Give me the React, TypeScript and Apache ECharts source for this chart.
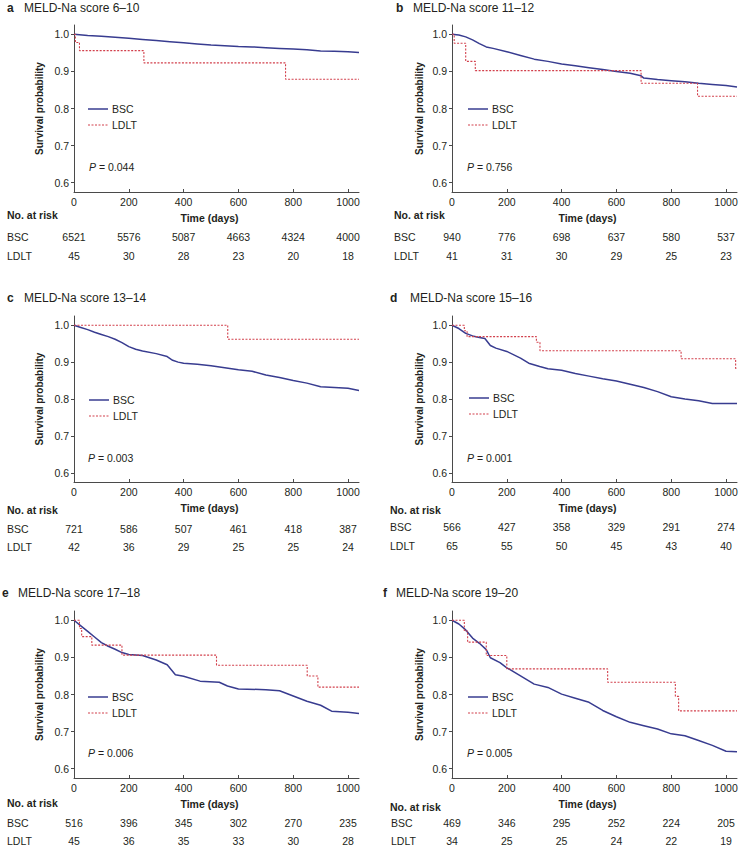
import React, { useEffect, useRef } from "react";
import * as echarts from "echarts";

// ---------- DATA ----------
const xTicks = [0, 200, 400, 600, 800, 1000];
const yTicks = [0.6, 0.7, 0.8, 0.9, 1.0];
const panelLetters = ["a", "b", "c", "d", "e", "f"];
const panelTitles = [
  "MELD-Na score 6–10",
  "MELD-Na score 11–12",
  "MELD-Na score 13–14",
  "MELD-Na score 15–16",
  "MELD-Na score 17–18",
  "MELD-Na score 19–20",
];
const pValues = ["0.044", "0.756", "0.003", "0.001", "0.006", "0.005"];
const groupNames = ["BSC", "LDLT"];

const bscA = [[0,1],[50,0.997],[100,0.995],[150,0.992],[200,0.989],[250,0.986],[300,0.983],[350,0.98],[400,0.977],[450,0.974],[500,0.971],[550,0.969],[600,0.967],[650,0.966],[700,0.964],[750,0.962],[800,0.96],[850,0.958],[900,0.955],[950,0.954],[1000,0.953],[1040,0.951]];
const ldltA = [[0,1],[5,0.978],[20,0.956],[255,0.923],[772,0.879],[1040,0.879]];

const bscB = [[0,1],[25,0.998],[50,0.993],[75,0.985],[100,0.975],[125,0.966],[150,0.962],[200,0.953],[250,0.943],[300,0.933],[350,0.927],[400,0.92],[450,0.915],[500,0.91],[550,0.905],[600,0.9],[650,0.895],[690,0.888],[700,0.882],[750,0.878],[800,0.875],[850,0.872],[900,0.868],[950,0.865],[1000,0.862],[1040,0.858]];
const ldltB = [[0,1],[8,0.976],[50,0.927],[85,0.902],[690,0.868],[896,0.833],[1040,0.833]];

const bscC = [[0,1],[25,0.994],[50,0.988],[75,0.981],[100,0.975],[125,0.969],[150,0.962],[175,0.953],[200,0.942],[225,0.935],[250,0.93],[300,0.923],[340,0.915],[360,0.905],[380,0.9],[400,0.897],[450,0.894],[500,0.89],[550,0.885],[600,0.879],[650,0.875],[700,0.865],[750,0.858],[800,0.85],[850,0.843],[900,0.833],[950,0.831],[1000,0.829],[1040,0.823]];
const ldltC = [[0,1],[561,0.962],[1040,0.962]];

const bscD = [[0,1],[25,0.991],[50,0.978],[75,0.971],[100,0.967],[120,0.964],[140,0.945],[160,0.938],[200,0.929],[250,0.911],[280,0.897],[320,0.888],[350,0.882],[400,0.878],[450,0.869],[500,0.862],[550,0.855],[600,0.849],[650,0.84],[700,0.831],[750,0.82],[800,0.806],[850,0.8],[900,0.795],[950,0.788],[1040,0.788]];
const ldltD = [[0,1],[45,0.985],[55,0.969],[308,0.954],[321,0.931],[836,0.909],[1035,0.883],[1040,0.883]];

const bscE = [[0,1],[25,0.985],[50,0.97],[75,0.955],[100,0.94],[125,0.93],[150,0.922],[175,0.913],[200,0.908],[250,0.905],[300,0.893],[340,0.88],[370,0.853],[400,0.849],[460,0.836],[530,0.833],[560,0.823],[600,0.815],[700,0.813],[750,0.81],[800,0.796],[850,0.782],[900,0.771],[940,0.755],[1000,0.752],[1040,0.749]];
const ldltE = [[0,1],[20,0.978],[28,0.956],[65,0.933],[175,0.906],[520,0.879],[851,0.85],[890,0.82],[1040,0.82]];

const bscF = [[0,1],[25,0.99],[50,0.974],[75,0.952],[100,0.938],[125,0.921],[140,0.899],[175,0.886],[200,0.872],[250,0.85],[300,0.828],[350,0.819],[400,0.801],[450,0.79],[500,0.779],[550,0.757],[600,0.74],[650,0.725],[700,0.716],[750,0.707],[800,0.694],[850,0.689],[900,0.676],[950,0.663],[1000,0.647],[1040,0.646]];
const ldltF = [[0,1],[45,0.971],[57,0.941],[125,0.905],[200,0.869],[568,0.833],[815,0.795],[827,0.756],[1040,0.756]];

const riskBscA = [6521, 5576, 5087, 4663, 4324, 4000];
const riskLdltA = [45, 30, 28, 23, 20, 18];
const riskBscB = [940, 776, 698, 637, 580, 537];
const riskLdltB = [41, 31, 30, 29, 25, 23];
const riskBscC = [721, 586, 507, 461, 418, 387];
const riskLdltC = [42, 36, 29, 25, 25, 24];
const riskBscD = [566, 427, 358, 329, 291, 274];
const riskLdltD = [65, 55, 50, 45, 43, 40];
const riskBscE = [516, 396, 345, 302, 270, 235];
const riskLdltE = [45, 36, 35, 33, 30, 28];
const riskBscF = [469, 346, 295, 252, 224, 205];
const riskLdltF = [34, 25, 25, 24, 22, 19];

const bscCurves = [bscA, bscB, bscC, bscD, bscE, bscF];
const ldltCurves = [ldltA, ldltB, ldltC, ldltD, ldltE, ldltF];
const riskBsc = [riskBscA, riskBscB, riskBscC, riskBscD, riskBscE, riskBscF];
const riskLdlt = [riskLdltA, riskLdltB, riskLdltC, riskLdltD, riskLdltE, riskLdltF];

// ---------- LAYOUT ----------
const FONT = '"Liberation Sans", Arial, Helvetica, sans-serif';
const TXT = "#231f20";
const AXIS = "#4a4a4a";
const BSC_COLOR = "#383c90";
const LDLT_COLOR = "#d2404c";
const LDLT_DASH = [2, 1.5];

const layout = [
  { left: 74, top: 25, h: 167, letterX: 7, titleX: 24, titleY: 9, legY: 109, legLeft: 88, pX: 89, pY: 167, riskX: 7, rowGap: 67, off1: 45.3, off2: 64.3, riskY: 215, yGap: 30 },
  { left: 452, top: 25, h: 167, letterX: 396, titleX: 413, titleY: 9, legY: 109, legLeft: 468, pX: 467, pY: 167, riskX: 394, rowGap: 58, off1: 45.3, off2: 64.3, riskY: 215, yGap: 28 },
  { left: 74, top: 316, h: 166, letterX: 7, titleX: 24, titleY: 299, legY: 400, legLeft: 89, pX: 88, pY: 458, riskX: 7, rowGap: 67, off1: 46.6, off2: 65, riskY: 510, yGap: 30 },
  { left: 452, top: 316, h: 166, letterX: 390, titleX: 410, titleY: 299, legY: 398, legLeft: 469, pX: 467, pY: 458, riskX: 390, rowGap: 62, off1: 45, off2: 64, riskY: 510, yGap: 28 },
  { left: 74, top: 611, h: 167, letterX: 2, titleX: 18, titleY: 594, legY: 697, legLeft: 88, pX: 88, pY: 753, riskX: 7, rowGap: 67, off1: 45, off2: 63.4, riskY: 803, yGap: 30 },
  { left: 452, top: 611, h: 167, letterX: 383, titleX: 396, titleY: 594, legY: 697, legLeft: 468, pX: 467, pY: 753, riskX: 390, rowGap: 61, off1: 45, off2: 63.4, riskY: 807, yGap: 28 },
];
const GRID_W = 285;
const X_MAX = 1040;

function buildOption() {
  const grid: any[] = [];
  const xAxis: any[] = [];
  const yAxis: any[] = [];
  const series: any[] = [];
  const graphic: any[] = [];

  layout.forEach((L, i) => {
    grid.push({ left: L.left, top: L.top, width: GRID_W, height: L.h });
    xAxis.push({
      type: "value", gridIndex: i, min: 0, max: X_MAX,
      name: "Time (days)", nameLocation: "middle", nameGap: 20,
      nameTextStyle: { fontFamily: FONT, fontWeight: "bold", fontSize: 10.5, color: TXT, padding: [0, 14, 0, 0] },
      axisLine: { show: true, lineStyle: { color: AXIS, width: 1 } },
      axisTick: { show: true, inside: true, length: 3, lineStyle: { color: AXIS }, customValues: xTicks },
      axisLabel: { customValues: xTicks, margin: 4, fontFamily: FONT, fontSize: 10.5, color: TXT, formatter: (v: number) => String(v) },
      splitLine: { show: false },
    });
    const riskAxis = (rows: number[], name: string, off: number) => ({
      type: "value", gridIndex: i, min: 0, max: X_MAX, position: "bottom", offset: off,
      name, nameLocation: "start", nameGap: L.rowGap,
      nameTextStyle: { fontFamily: FONT, fontSize: 10.5, color: TXT, align: "left", verticalAlign: "middle" },
      axisLine: { show: false }, axisTick: { show: false }, splitLine: { show: false },
      axisLabel: {
        customValues: xTicks, margin: 0, verticalAlign: "middle",
        fontFamily: FONT, fontSize: 10.5, color: TXT,
        formatter: (v: number) => String(rows[Math.round(v / 200)] ?? ""),
      },
    });
    xAxis.push(riskAxis(riskBsc[i], groupNames[0], L.off1));
    xAxis.push(riskAxis(riskLdlt[i], groupNames[1], L.off2));

    yAxis.push({
      type: "value", gridIndex: i, min: 0.575, max: 1.025,
      name: "Survival probability", nameLocation: "middle", nameGap: L.yGap,
      nameTextStyle: { fontFamily: FONT, fontWeight: "bold", fontSize: 10, color: TXT },
      axisLine: { show: true, lineStyle: { color: AXIS, width: 1 } },
      axisTick: { show: true, length: 3, lineStyle: { color: AXIS }, customValues: yTicks },
      axisLabel: { customValues: yTicks, margin: 5, fontFamily: FONT, fontSize: 10.5, color: TXT, formatter: (v: number) => v.toFixed(1) },
      splitLine: { show: false },
    });

    series.push({
      type: "line", name: groupNames[0], xAxisIndex: i * 3, yAxisIndex: i, data: bscCurves[i],
      symbol: "none", showSymbol: false,
      lineStyle: { color: BSC_COLOR, width: 1.5 }, itemStyle: { color: BSC_COLOR },
    });
    series.push({
      type: "line", name: groupNames[1], xAxisIndex: i * 3, yAxisIndex: i, data: ldltCurves[i],
      step: "end", symbol: "none", showSymbol: false,
      lineStyle: { color: LDLT_COLOR, width: 1.1, type: LDLT_DASH }, itemStyle: { color: LDLT_COLOR },
    });

    graphic.push({
      type: "line", shape: { x1: L.legLeft, y1: L.legY, x2: L.legLeft + 20, y2: L.legY },
      style: { stroke: BSC_COLOR, lineWidth: 1.5 },
    });
    graphic.push({
      type: "line", shape: { x1: L.legLeft, y1: L.legY + 16, x2: L.legLeft + 20, y2: L.legY + 16 },
      style: { stroke: LDLT_COLOR, lineWidth: 1.1, lineDash: LDLT_DASH },
    });
    graphic.push({
      type: "text", left: L.legLeft + 24, top: L.legY - 6,
      style: { text: groupNames[0], font: `10.5px ${FONT}`, fill: TXT },
    });
    graphic.push({
      type: "text", left: L.legLeft + 24, top: L.legY + 10,
      style: { text: groupNames[1], font: `10.5px ${FONT}`, fill: TXT },
    });

    graphic.push({
      type: "text", left: L.letterX, top: L.titleY - 7,
      style: { text: panelLetters[i], font: `bold 12px ${FONT}`, fill: TXT },
    });
    graphic.push({
      type: "text", left: L.titleX, top: L.titleY - 7,
      style: { text: panelTitles[i], font: `12px ${FONT}`, fill: TXT },
    });
    graphic.push({
      type: "text", left: L.pX, top: L.pY - 6,
      style: {
        text: `{i|P} = ${pValues[i]}`, font: `10.5px ${FONT}`, fill: TXT,
        rich: { i: { fontStyle: "italic", fontFamily: FONT, fontSize: 10.5, fill: TXT } },
      },
    });
    graphic.push({
      type: "text", left: L.riskX, top: L.riskY - 6,
      style: { text: "No. at risk", font: `bold 10.5px ${FONT}`, fill: TXT },
    });
  });

  return {
    animation: false,
    backgroundColor: "#ffffff",
    textStyle: { fontFamily: FONT },
    grid, xAxis, yAxis, series, graphic,
  };
}

export default function App() {
  const ref = useRef<HTMLDivElement>(null);
  useEffect(() => {
    if (!ref.current) return;
    const chart = echarts.init(ref.current, undefined, { renderer: "svg" });
    chart.setOption(buildOption() as any);
    return () => chart.dispose();
  }, []);
  return (
    <div
      ref={ref}
      style={{ position: "fixed", left: 0, top: 0, width: 742, height: 849, background: "#fff" }}
    />
  );
}
